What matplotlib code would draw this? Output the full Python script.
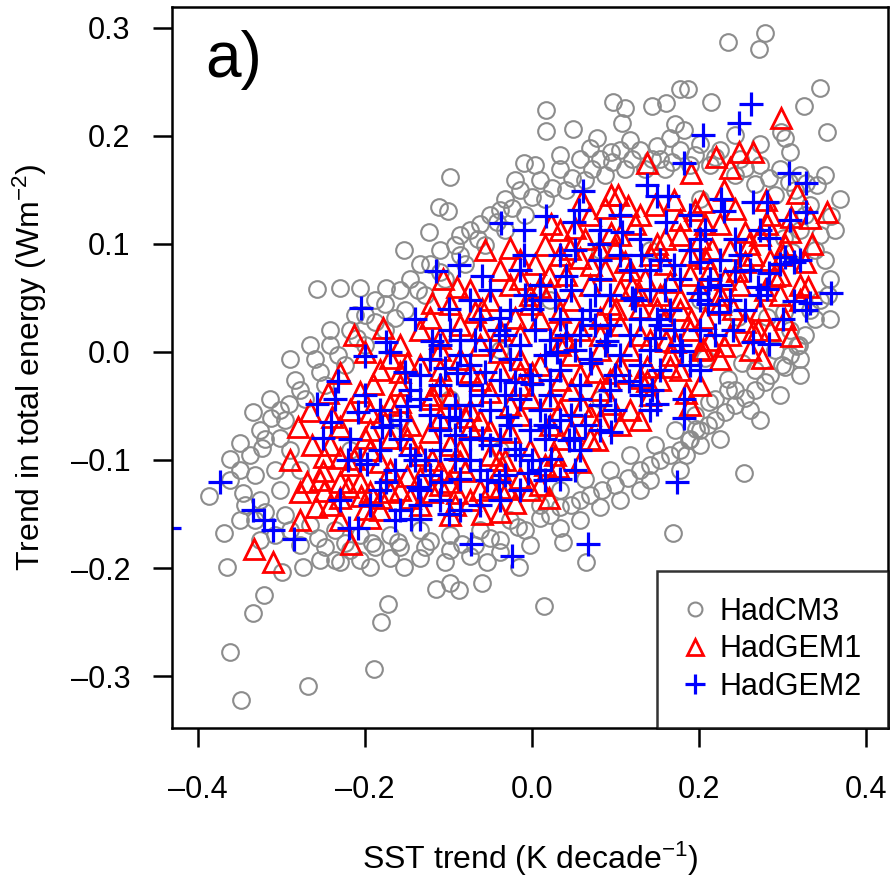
import matplotlib
matplotlib.use("Agg")
import matplotlib.pyplot as plt
from matplotlib.lines import Line2D
from matplotlib.ticker import FuncFormatter
from matplotlib import font_manager

# HadCM3 (grey circles): sparse outliers + the halo around the dense core
cm3_x = [0.235, 0.279, 0.271, 0.177, 0.187, 0.345, 0.143, 0.160, 0.214, 0.325, 0.353, 0.097, 0.111, 0.108,
         0.017, 0.017, 0.049, 0.078, 0.171, 0.182, 0.303, 0.309, 0.150, 0.095, -0.010, -0.098, -0.111, -0.101,
         -0.153, -0.123, -0.257, -0.230, -0.206, -0.175, -0.158, -0.334, -0.313, -0.350, -0.362, -0.387, -0.346,
         -0.323, -0.302, -0.291, -0.369, -0.365, -0.321, -0.334, -0.362, -0.349, -0.268, -0.189, -0.181, -0.172,
         -0.274, -0.299, -0.230, -0.194, -0.153, -0.115, -0.098, -0.087, -0.060, -0.016, -0.054, -0.104, 0.014,
         0.065, 0.037, 0.169, 0.254, 0.184, 0.235, 0.251, 0.303, 0.317, 0.281, 0.301, 0.246, 0.235, 0.207,
         0.196, 0.188, 0.212, 0.301, 0.311, 0.358, 0.328, 0.341, 0.298,
         -0.314, -0.284, -0.260, -0.242, -0.218, -0.200, -0.176, -0.146, -0.122, -0.092, -0.074, -0.050, -0.032,
         -0.014, 0.010, 0.034, 0.057, 0.081, 0.105, 0.129, 0.153, 0.177, 0.201, 0.225, 0.249, 0.273, 0.297,
         0.315, 0.333,
         -0.296, -0.272, -0.248, -0.224, -0.200, -0.176, -0.152, -0.128, -0.104, -0.080, -0.056, -0.032, -0.008,
         0.016, 0.040, 0.063, 0.087, 0.111, 0.135, 0.159, 0.189, 0.213, 0.243, 0.267, 0.291, 0.321, 0.339,
         -0.332, -0.308, -0.278, -0.248, -0.218, -0.188, -0.158, -0.128, -0.098, -0.068, -0.038, -0.008, 0.022,
         0.046, 0.069, 0.099, 0.129, 0.153, 0.177, 0.201, 0.219, 0.243, 0.267, 0.285, 0.309, 0.327, 0.345, 0.357,
         -0.326, -0.296, -0.266, -0.236, -0.206, -0.170, -0.134, -0.098, -0.062, -0.026, 0.010, 0.034, 0.063,
         0.093, 0.117, 0.147, 0.171, 0.195, 0.219, 0.243, 0.267, 0.291, 0.309, 0.333, 0.351,
         -0.350, -0.338, -0.320, -0.308, -0.326, 0.363, 0.369, 0.351,
         -0.158, -0.098, -0.038, 0.022, 0.081, 0.141, 0.201, -0.218, 0.081, -0.038, 0.201,
         -0.302, -0.278, -0.254, -0.232, -0.210, -0.188, -0.164, -0.137, -0.110, -0.086, -0.065, -0.042, -0.024,
         0.000, 0.024, 0.048, 0.072, 0.096, 0.120, 0.144, 0.168, 0.195, 0.219, 0.255, 0.283, 0.307, 0.327, 0.345,
         -0.320, -0.290, -0.256, -0.224, -0.192, -0.160, -0.122, -0.084, -0.050, -0.017, 0.010, 0.034, 0.057,
         0.084, 0.115, 0.141, 0.165, 0.189, 0.211, 0.231, 0.255, 0.279, 0.299, 0.319, 0.339, 0.354,
         -0.254, -0.206, -0.134, -0.074, 0.034, 0.081, 0.141, 0.201, 0.261, 0.321,
         -0.290, -0.266, -0.242, -0.212, -0.188, -0.134, -0.110, -0.086, -0.062, -0.038, -0.020, 0.004, 0.034,
         0.069, 0.117, 0.165, 0.243, 0.273, 0.321,
         -0.350, -0.326, -0.236, -0.170, -0.038, -0.002, 0.057, 0.105, 0.129, 0.177, 0.225, 0.273, 0.297, 0.321,
         0.357, -0.362, -0.332, -0.302, -0.278, -0.290, -0.344]
cm3_y = [0.287, 0.295, 0.280, 0.243, 0.243, 0.244, 0.227, 0.230, 0.231, 0.227, 0.203, 0.231, 0.226, 0.212,
         0.224, 0.204, 0.206, 0.198, 0.211, 0.205, 0.198, 0.185, 0.190, 0.185, 0.175, 0.162, 0.134, 0.130,
         0.094, 0.111, 0.058, 0.059, 0.059, 0.059, 0.057, -0.056, -0.061, -0.084, -0.099, -0.133, -0.131,
         -0.089, -0.080, -0.048, -0.168, -0.199, -0.225, -0.242, -0.278, -0.322, -0.309, -0.293, -0.250, -0.233,
         -0.199, -0.204, -0.194, -0.199, -0.199, -0.219, -0.214, -0.220, -0.214, -0.199, -0.194, -0.194, -0.235,
         -0.194, -0.176, -0.168, -0.112, -0.095, -0.035, -0.010, -0.014, 0.005, 0.032, 0.037, 0.032, -0.025,
         -0.006, -0.071, -0.082, -0.046, 0.105, 0.092, 0.126, 0.156, 0.154, 0.203,
         -0.044, -0.026, -0.007, 0.006, 0.020, 0.034, 0.044, 0.067, 0.081, 0.099, 0.113, 0.127, 0.141,
         0.150, 0.159, 0.169, 0.178, 0.178, 0.187, 0.187, 0.178, 0.187, 0.192, 0.187, 0.178, 0.173, 0.169,
         0.150, 0.136,
         -0.063, -0.044, -0.031, -0.012, 0.006, 0.020, 0.039, 0.053, 0.067, 0.081, 0.099, 0.113, 0.127,
         0.141, 0.150, 0.159, 0.164, 0.169, 0.169, 0.169, 0.173, 0.173, 0.164, 0.155, 0.145, 0.113, 0.094,
         -0.156, -0.169, -0.179, -0.181, -0.183, -0.181, -0.181, -0.181, -0.183, -0.179, -0.174, -0.165, -0.151,
         -0.142, -0.132, -0.123, -0.109, -0.100, -0.091, -0.072, -0.063, -0.049, -0.035, -0.021, -0.003, 0.016,
         0.048, 0.067,
         -0.137, -0.151, -0.160, -0.165, -0.169, -0.169, -0.165, -0.169, -0.165, -0.156, -0.142, -0.128, -0.118,
         -0.109, -0.095, -0.086, -0.072, -0.058, -0.044, -0.035, -0.017, 0.002, 0.020, 0.039, 0.085,
         -0.109, -0.095, -0.081, -0.109, -0.072, 0.113, 0.141, 0.164,
         -0.063, -0.044, 0.002, 0.048, 0.094, 0.094, 0.141, -0.091, -0.044, -0.091, 0.048,
         -0.054, -0.035, -0.019, -0.003, 0.013, 0.028, 0.031, 0.057, 0.074, 0.090, 0.104, 0.120, 0.133,
         0.143, 0.152, 0.161, 0.169, 0.176, 0.178, 0.178, 0.176, 0.182, 0.180, 0.170, 0.161, 0.157, 0.127, 0.108,
         -0.148, -0.165, -0.172, -0.177, -0.177, -0.176, -0.175, -0.178, -0.172, -0.162, -0.154, -0.144, -0.137,
         -0.128, -0.117, -0.105, -0.095, -0.081, -0.068, -0.056, -0.043, -0.028, -0.012, 0.006, 0.030, 0.053,
         -0.193, -0.193, -0.191, -0.189, -0.163, -0.144, -0.119, -0.086, -0.054, -0.007,
         -0.007, 0.006, 0.020, 0.034, 0.048, 0.081, 0.094, 0.108, 0.118, 0.131, 0.159, 0.173, 0.182,
         0.189, 0.196, 0.198, 0.201, 0.192, 0.164,
         -0.156, -0.174, -0.193, -0.191, -0.185, -0.179, -0.156, -0.137, -0.128, -0.109, -0.081, -0.063, -0.040,
         -0.021, 0.030, -0.119, -0.114, -0.128, -0.109, -0.091, -0.142]

# HadGEM1 (red triangles)
gem1_x = [-0.333, -0.310, -0.217, -0.259, -0.249, -0.213, -0.178, -0.120, -0.107, -0.056, -0.026, 0.023,
          0.095, 0.103, 0.138, 0.190, 0.220, 0.237, 0.248, 0.265, 0.298, 0.317, 0.333, 0.353, 0.205, 0.243,
          0.281, 0.265, 0.265, 0.275, 0.205, 0.184, 0.165, 0.138, 0.138, 0.095, 0.078, 0.031, -0.030, -0.049,
          -0.090, -0.181, -0.205, -0.230, -0.263, -0.266, -0.244, -0.213, -0.249,
          0.069, 0.129, 0.177, 0.225, 0.273, 0.034, 0.105, 0.201, -0.014, 0.034, 0.081, 0.141, 0.189, 0.237,
          0.285, -0.038, 0.117, 0.213, 0.297, -0.074, -0.026, 0.022, 0.069, 0.105, 0.153, 0.201, 0.249, 0.297,
          -0.098, -0.002, 0.093, 0.177, 0.225, 0.273, -0.134, -0.086, -0.038, 0.010, 0.057, 0.105, 0.141, 0.189,
          0.237, -0.158, -0.062, 0.034, 0.081, 0.201, -0.182, -0.134, -0.086, -0.038, 0.010, 0.057, 0.105, 0.153,
          -0.110, -0.014, 0.081, 0.201, -0.218, -0.170, -0.122, -0.074, -0.026, 0.022, 0.069, 0.117, -0.146,
          -0.050, 0.046, -0.194, -0.242, -0.194, -0.146, -0.098, -0.050, -0.002, 0.034, -0.170, -0.110, -0.038,
          -0.218, -0.158, -0.110, -0.074, -0.002,
          0.016, 0.063, 0.099, 0.159, 0.207, 0.255, 0.303, -0.014, 0.040, 0.087, 0.135, 0.189, 0.231, 0.279,
          0.321, -0.122, -0.068, -0.020, 0.034, 0.081, 0.129, 0.159, 0.207, 0.255, 0.303, -0.170, -0.110,
          -0.074, -0.014, 0.046, 0.117, 0.165, 0.225, 0.261, -0.206, -0.158, -0.098, -0.050, -0.002, 0.046,
          0.093, 0.141, 0.189, -0.230, -0.170, -0.122, -0.074, -0.026, 0.022, 0.069, 0.105, -0.254, -0.206,
          -0.134, -0.086, -0.014, 0.028, -0.062, -0.242, -0.182, -0.134, -0.098, -0.038,
          0.087, 0.147, 0.195, 0.285, 0.051, 0.123, 0.177, 0.309, 0.004, 0.057, 0.111, 0.159, 0.207, 0.255,
          0.327, -0.050, -0.002, 0.046, 0.129, 0.177, 0.225, 0.321, -0.110, -0.062, -0.014, 0.034, 0.081, 0.129,
          0.171, 0.213, 0.285, -0.158, -0.110, -0.062, -0.014, 0.034, 0.075, 0.129, 0.177, -0.194, -0.158,
          -0.110, -0.062, -0.014, 0.034, 0.081, 0.129, -0.230, -0.182, -0.134, -0.086, -0.032, 0.016, 0.057,
          -0.278, -0.230, -0.194, -0.146, -0.092, -0.038, 0.010, -0.278, -0.230, -0.194,
          0.060, 0.115, 0.170, 0.230, 0.280, 0.310, 0.045, 0.095, 0.150, 0.215, 0.260, 0.300, 0.335, 0.020,
          0.070, 0.120, 0.165, 0.245, 0.290, 0.330, 0.100, 0.150, 0.190, 0.240, 0.270, 0.310, 0.230, 0.160,
          -0.290, -0.270, -0.250, -0.220, -0.200, -0.170, -0.150, -0.120, -0.100, -0.060, -0.020, 0.020, -0.280,
          -0.240, -0.200, -0.180, -0.150, -0.120, -0.080, -0.040, -0.190, -0.150, -0.120, -0.080, -0.230, -0.200,
          -0.040, 0.000, 0.040, 0.060, 0.100, -0.060, 0.010, -0.090]
gem1_y = [-0.182, -0.194, -0.178, -0.144, -0.129, 0.016, 0.022, 0.045, 0.067, 0.094, 0.096, 0.118,
          0.145, 0.145, 0.175, 0.165, 0.180, 0.170, 0.185, 0.185, 0.216, 0.147, 0.124, 0.129, 0.139, 0.132,
          0.118, 0.090, 0.019, -0.006, 0.003, -0.038, -0.014, -0.014, -0.027, -0.048, -0.082, -0.107, -0.127,
          -0.125, -0.131, -0.135, -0.133, -0.120, -0.086, -0.055, -0.038, -0.099, -0.097,
          0.127, 0.127, 0.122, 0.118, 0.108, 0.113, 0.108, 0.104, 0.085, 0.090, 0.094, 0.090, 0.090, 0.094,
          0.085, 0.076, 0.076, 0.076, 0.071, 0.057, 0.062, 0.057, 0.062, 0.057, 0.053, 0.057, 0.062, 0.053,
          0.044, 0.044, 0.044, 0.039, 0.044, 0.039, 0.020, 0.025, 0.020, 0.030, 0.020, 0.025, 0.011, 0.020,
          0.016, 0.006, 0.006, 0.006, 0.002, 0.002, -0.017, -0.012, -0.007, -0.017, -0.012, -0.021, -0.012, -0.026,
          -0.031, -0.031, -0.035, -0.031, -0.054, -0.049, -0.044, -0.054, -0.049, -0.044, -0.058, -0.054, -0.068,
          -0.072, -0.072, -0.072, -0.086, -0.091, -0.086, -0.086, -0.095, -0.091, -0.081, -0.109, -0.109, -0.109,
          -0.105, -0.128, -0.123, -0.137, -0.128,
          0.099, 0.104, 0.096, 0.104, 0.118, 0.111, 0.099, 0.067, 0.071, 0.076, 0.067, 0.071, 0.067, 0.057,
          0.062, 0.031, 0.037, 0.031, 0.037, 0.031, 0.041, 0.030, 0.031, 0.028, 0.030, -0.006, 0.002,
          -0.019, -0.007, -0.003, 0.002, -0.003, -0.007, 0.002, -0.037, -0.031, -0.043, -0.037, -0.043, -0.035,
          -0.026, -0.040, -0.049, -0.070, -0.080, -0.074, -0.070, -0.074, -0.068, -0.081, -0.068, -0.119, -0.120,
          -0.117, -0.102, -0.117, -0.095, -0.128, -0.142, -0.146, -0.142, -0.151, -0.148,
          0.133, 0.136, 0.131, 0.127, 0.115, 0.118, 0.108, 0.111, 0.081, 0.087, 0.083, 0.081, 0.087, 0.083,
          0.083, 0.048, 0.053, 0.048, 0.053, 0.050, 0.053, 0.048, 0.013, 0.020, 0.016, 0.022, 0.016, 0.016,
          0.009, 0.011, 0.020, -0.019, -0.017, -0.026, -0.019, -0.026, -0.019, -0.024, -0.017, -0.056, -0.046,
          -0.061, -0.063, -0.058, -0.054, -0.063, -0.063, -0.098, -0.102, -0.095, -0.091, -0.100, -0.105, -0.102,
          -0.130, -0.135, -0.130, -0.135, -0.142, -0.126, -0.123, -0.156, -0.156, -0.154,
          0.140, 0.135, 0.140, 0.150, 0.140, 0.125, 0.095, 0.110, 0.100, 0.095, 0.100, 0.090, 0.100, 0.070,
          0.080, 0.060, 0.065, 0.075, 0.070, 0.060, 0.040, 0.040, 0.030, 0.040, 0.020, 0.015, 0.005, 0.010,
          -0.100, -0.120, -0.110, -0.125, -0.145, -0.130, -0.115, -0.130, -0.120, -0.150, -0.140, -0.135, -0.070,
          -0.060, -0.080, -0.060, -0.080, -0.100, -0.110, -0.100, -0.030, -0.010, -0.040, -0.060, -0.020, 0.000,
          0.000, -0.020, 0.010, -0.050, -0.020, 0.040, 0.060, 0.060]

# HadGEM2 (blue crosses)
gem2_x = [0.262, 0.248, 0.205, 0.182, 0.061, 0.138, 0.150, 0.163, 0.226, 0.265, 0.281, 0.307, 0.328, 0.328,
          0.303, 0.314, 0.281, 0.314, 0.333, 0.358, 0.328, 0.265, 0.284, 0.180, 0.182, 0.174, 0.067, -0.024,
          -0.073, -0.134, -0.164, -0.145, -0.219, -0.208, -0.285, -0.310, -0.321, -0.334, -0.374, -0.435,
          -0.205, -0.200, -0.232, -0.175, -0.115, -0.087, -0.037, -0.010, 0.017, 0.056, 0.108, 0.207, 0.284,
          0.284, 0.243, 0.199, 0.210, 0.224, 0.182, 0.150, 0.144, 0.116, 0.095, 0.044, 0.023, -0.005, -0.054,
          -0.092, -0.109, -0.137, -0.175, -0.198, -0.208, -0.236, -0.257, -0.241,
          -0.098, -0.062, -0.026, 0.010, 0.046, 0.081, 0.117, 0.153, 0.189, 0.225, 0.261, -0.122, -0.086,
          -0.050, -0.014, 0.022, 0.057, 0.093, 0.129, 0.165, 0.201, 0.237, -0.146, -0.110, -0.074, -0.038,
          -0.002, 0.034, 0.069, 0.105, 0.141, 0.177, -0.158, -0.122, -0.086, -0.050, -0.014, 0.022, 0.057,
          0.093, 0.129, -0.182, -0.146, -0.110, -0.074, -0.038, -0.002, 0.034, 0.081, -0.134, -0.086, -0.038,
          0.010, 0.034, 0.081, 0.129, 0.177, -0.014, -0.050, 0.273, 0.309, 0.321,
          0.051, 0.105, 0.201, 0.243, 0.010, 0.093, 0.141, 0.225, 0.273, -0.086, -0.038, 0.034, 0.069, 0.153,
          0.201, 0.255, -0.134, -0.074, -0.026, 0.016, 0.051, 0.087, 0.129, 0.189, -0.182, -0.134, -0.092,
          -0.032, 0.010, 0.046, 0.081, 0.141, -0.218, -0.158, -0.128, -0.092, -0.050, -0.014, 0.016, 0.057,
          -0.182, -0.110, -0.062, -0.014, 0.034, -0.158, -0.086,
          -0.074, -0.008, 0.028, 0.075, 0.123, 0.159, 0.213, -0.110, -0.068, -0.032, 0.004, 0.040, 0.075, 0.117,
          0.147, 0.219, -0.152, -0.104, -0.056, -0.020, 0.022, 0.057, 0.099, 0.153, 0.201, -0.170, -0.110,
          -0.074, -0.026, 0.016, 0.063, 0.099, -0.206, -0.164, -0.122, -0.074, -0.032, 0.016, 0.051, -0.230,
          -0.194, -0.134, -0.062, 0.081, 0.141, 0.201, 0.249, 0.297, 0.105, 0.189,
          -0.120, -0.090, -0.060, -0.030, 0.000, 0.030, 0.060, 0.090, 0.120, 0.150, -0.150, -0.180, -0.100,
          -0.060, -0.020, 0.020, 0.050, -0.040, 0.000, 0.040, 0.080, 0.130, 0.170, 0.210, 0.240, 0.170, 0.130,
          0.070, -0.010, -0.060, -0.100, -0.140, -0.170, -0.200, -0.220, -0.250, -0.140, -0.100, -0.040, 0.000,
          0.050, 0.160, 0.230, 0.270, 0.300]
gem2_y = [0.229, 0.212, 0.201, 0.175, 0.149, 0.154, 0.144, 0.144, 0.141, 0.139, 0.139, 0.165, 0.156, 0.129,
          0.088, 0.083, 0.058, 0.047, 0.045, 0.054, 0.039, 0.009, 0.007, 0.001, -0.061, -0.120, -0.178, -0.189,
          -0.178, -0.155, -0.156, -0.155, -0.163, -0.163, -0.173, -0.165, -0.156, -0.146, -0.120, -0.163,
          0.041, -0.004, -0.027, 0.009, 0.075, 0.080, 0.119, 0.113, 0.126, 0.131, 0.111, 0.113, 0.105,
          0.073, 0.075, 0.054, 0.044, 0.037, -0.044, -0.048, -0.035, -0.027, -0.074, -0.082, -0.099, -0.112,
          -0.119, -0.099, -0.120, -0.125, -0.120, -0.104, -0.056, -0.044, -0.048, -0.065,
          0.020, 0.030, 0.039, 0.048, 0.057, 0.067, 0.076, 0.085, 0.094, 0.085, 0.076, -0.007, -0.003,
          0.002, 0.006, 0.011, 0.016, 0.025, 0.030, 0.039, 0.048, 0.048, -0.035, -0.031, -0.031, -0.026,
          -0.021, -0.017, -0.007, -0.003, 0.002, 0.006, -0.063, -0.058, -0.063, -0.054, -0.044, -0.040, -0.044,
          -0.035, -0.031, -0.091, -0.095, -0.091, -0.081, -0.081, -0.072, -0.063, -0.072, -0.128, -0.118, -0.137,
          -0.109, 0.090, 0.113, 0.104, 0.067, 0.076, 0.057, 0.113, 0.122, 0.085,
          0.094, 0.090, 0.083, 0.104, 0.062, 0.053, 0.057, 0.062, 0.053, 0.011, 0.031, 0.030, 0.039, 0.025,
          0.020, 0.039, -0.021, -0.012, -0.007, -0.003, 0.002, 0.006, -0.012, -0.012, -0.054, -0.044, -0.049,
          -0.040, -0.054, -0.058, -0.049, -0.054, -0.081, -0.081, -0.100, -0.077, -0.086, -0.095, -0.081, -0.091,
          -0.128, -0.137, -0.109, -0.128, -0.118, -0.146, -0.146,
          0.048, 0.053, 0.048, 0.053, 0.048, 0.057, 0.067, 0.006, 0.011, 0.016, 0.020, 0.016, 0.025, 0.016,
          0.013, 0.016, -0.019, -0.015, -0.019, -0.028, -0.026, -0.031, -0.021, -0.017, -0.017, -0.068, -0.072,
          -0.049, -0.068, -0.068, -0.068, -0.054, -0.100, -0.109, -0.114, -0.100, -0.114, -0.119, -0.109, -0.137,
          -0.142, -0.142, -0.142, 0.085, 0.076, 0.104, 0.090, 0.081, 0.127, 0.127,
          0.010, -0.020, -0.040, -0.060, -0.030, 0.000, 0.030, 0.010, 0.050, 0.030, -0.050, -0.070, -0.060,
          -0.080, -0.090, -0.070, -0.080, 0.020, 0.040, 0.070, 0.100, 0.090, 0.080, 0.060, 0.020, 0.020, -0.040,
          -0.010, 0.090, 0.070, 0.040, 0.030, 0.000, -0.040, -0.100, -0.080, -0.100, -0.150, -0.120, -0.100,
          0.120, 0.120, 0.130, 0.060, 0.030]

series_names = ["HadCM3", "HadGEM1", "HadGEM2"]


def have(name):
    try:
        font_manager.findfont(name, fallback_to_default=False)
        return True
    except Exception:
        return False


base = "Liberation Sans" if have("Liberation Sans") else "Arial"
narrow = "Liberation Sans Narrow" if have("Liberation Sans Narrow") else base
lab_size = 29 if narrow != base else 23
plt.rcParams["font.family"] = [base, "DejaVu Sans"]
plt.rcParams["mathtext.fontset"] = "custom"
plt.rcParams["mathtext.rm"] = narrow
plt.rcParams["mathtext.it"] = narrow + ":italic"
plt.rcParams["mathtext.bf"] = narrow + ":bold"

fig = plt.figure(figsize=(8.91, 8.89), dpi=100)
ax = fig.add_axes([172/891, 1-728/889, 716/891, 721/889])

ax.plot(cm3_x, cm3_y, ls="none", marker="o", ms=12, mfc="none", mec="#8c8c8c", mew=1.5)
ax.plot(gem1_x, gem1_y, ls="none", marker="^", ms=14, mfc="none", mec="#ff0000", mew=2.0)
ax.plot(gem2_x, gem2_y, ls="none", marker="+", ms=17, mec="#0000ff", mew=2.3)

ax.set_xlim(-0.431, 0.426)
ax.set_ylim(-0.348, 0.319)
ax.set_xticks([-0.4, -0.2, 0.0, 0.2, 0.4])
ax.set_yticks([-0.3, -0.2, -0.1, 0.0, 0.1, 0.2, 0.3])
fmt = FuncFormatter(lambda v, p: f"{v:.1f}".replace("-", "\u2013"))
ax.xaxis.set_major_formatter(fmt)
ax.yaxis.set_major_formatter(fmt)
ax.tick_params(direction="out", length=14, width=1.8, labelsize=22)
ax.tick_params(axis="x", pad=20)
ax.tick_params(axis="y", pad=16)
for s in ax.spines.values():
    s.set_linewidth(1.8)

ax.set_xlabel("SST trend (K decade$^{\\mathrm{-1}}$)", fontsize=lab_size, family=narrow)
ax.set_ylabel("Trend in total energy (Wm$^{\\mathrm{-2}}$)", fontsize=lab_size, family=narrow)
ax.xaxis.set_label_coords(0.5, -0.155)
ax.yaxis.set_label_coords(-0.172, 0.5)
ax.text(0.046, 0.926, "a)", transform=ax.transAxes, fontsize=46, va="center", ha="left")

handles = [Line2D([], [], ls="none", marker="o", ms=10, mfc="none", mec="#8c8c8c", mew=1.5),
           Line2D([], [], ls="none", marker="^", ms=12, mfc="none", mec="#ff0000", mew=2.0),
           Line2D([], [], ls="none", marker="+", ms=15, mec="#0000ff", mew=2.3)]
leg = ax.legend(handles, series_names, loc="lower right", fontsize=22, frameon=True, fancybox=False,
                borderaxespad=0, handlelength=0.8, handletextpad=0.4, labelspacing=0.25,
                borderpad=0.85, edgecolor="black")
leg.get_frame().set_linewidth(1.8)

fig.savefig("out.png", dpi=100)
